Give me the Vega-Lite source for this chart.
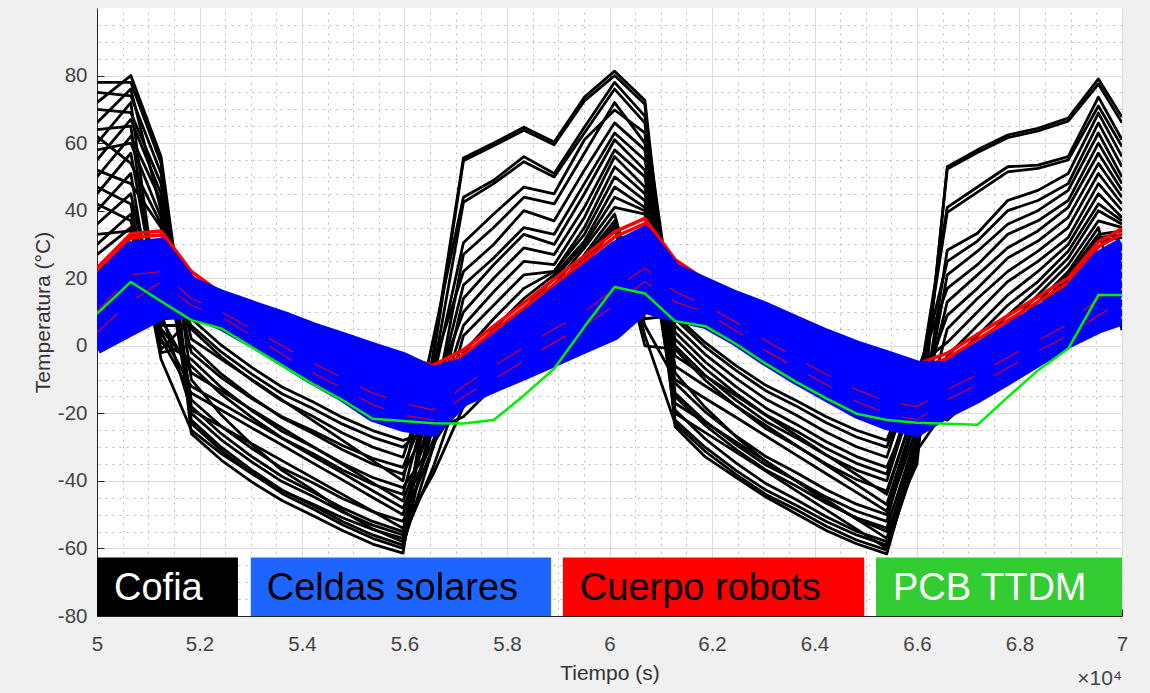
{
"$schema":"https://vega.github.io/schema/vega-lite/v6.json",
"width":1025,"height":608,
"autosize":{"type":"none"},
"padding":{"left":97,"top":8,"right":28,"bottom":77},
"background":"#f0f0f0",
"config":{"view":{"fill":"white","stroke":null},"font":"Liberation Sans"},
"datasets":{
"cofia":[
{"s":1,"t":5,"y":72},{"s":1,"t":5.066,"y":80},{"s":1,"t":5.125,"y":56},{"s":1,"t":5.184,"y":-10},{"s":1,"t":5.243,"y":-20.6},{"s":1,"t":5.302,"y":-29.2},{"s":1,"t":5.361,"y":-36.9},{"s":1,"t":5.42,"y":-42.6},{"s":1,"t":5.479,"y":-48.9},{"s":1,"t":5.538,"y":-54.2},{"s":1,"t":5.597,"y":-58},{"s":1,"t":5.656,"y":-2},{"s":1,"t":5.715,"y":55.6},{"s":1,"t":5.774,"y":60},{"s":1,"t":5.833,"y":64.7},{"s":1,"t":5.892,"y":60.3},{"s":1,"t":5.951,"y":73.6},{"s":1,"t":6.01,"y":81.3},{"s":1,"t":6.069,"y":72.7},{"s":1,"t":6.128,"y":-8},{"s":1,"t":6.187,"y":-18.3},{"s":1,"t":6.246,"y":-26.8},{"s":1,"t":6.305,"y":-34.3},{"s":1,"t":6.364,"y":-40},{"s":1,"t":6.423,"y":-46.1},{"s":1,"t":6.482,"y":-51.2},{"s":1,"t":6.541,"y":-55},{"s":1,"t":6.6,"y":-35},{"s":1,"t":6.659,"y":53},{"s":1,"t":6.718,"y":58},{"s":1,"t":6.777,"y":62.4},{"s":1,"t":6.836,"y":64.4},{"s":1,"t":6.895,"y":67.4},{"s":1,"t":6.954,"y":79},{"s":1,"t":7,"y":67.7},
{"s":2,"t":5,"y":78},{"s":2,"t":5.066,"y":78},{"s":2,"t":5.125,"y":54},{"s":2,"t":5.184,"y":-26},{"s":2,"t":5.243,"y":-33.9},{"s":2,"t":5.302,"y":-40.3},{"s":2,"t":5.361,"y":-45.8},{"s":2,"t":5.42,"y":-50.2},{"s":2,"t":5.479,"y":-54.7},{"s":2,"t":5.538,"y":-58.7},{"s":2,"t":5.597,"y":-61.4},{"s":2,"t":5.656,"y":-4},{"s":2,"t":5.715,"y":54.8},{"s":2,"t":5.774,"y":59.2},{"s":2,"t":5.833,"y":63.8},{"s":2,"t":5.892,"y":59.5},{"s":2,"t":5.951,"y":72.5},{"s":2,"t":6.01,"y":80},{"s":2,"t":6.069,"y":71.5},{"s":2,"t":6.128,"y":-20},{"s":2,"t":6.187,"y":-25.7},{"s":2,"t":6.246,"y":-31.4},{"s":2,"t":6.305,"y":-37.1},{"s":2,"t":6.364,"y":-42.9},{"s":2,"t":6.423,"y":-48.6},{"s":2,"t":6.482,"y":-54.3},{"s":2,"t":6.541,"y":-60},{"s":2,"t":6.6,"y":-33},{"s":2,"t":6.659,"y":52.3},{"s":2,"t":6.718,"y":57.2},{"s":2,"t":6.777,"y":61.6},{"s":2,"t":6.836,"y":63.6},{"s":2,"t":6.895,"y":66.5},{"s":2,"t":6.954,"y":77.5},{"s":2,"t":7,"y":66},
{"s":3,"t":5,"y":66},{"s":3,"t":5.066,"y":76},{"s":3,"t":5.125,"y":40},{"s":3,"t":5.184,"y":2},{"s":3,"t":5.243,"y":-4},{"s":3,"t":5.302,"y":-10},{"s":3,"t":5.361,"y":-16},{"s":3,"t":5.42,"y":-22},{"s":3,"t":5.479,"y":-28},{"s":3,"t":5.538,"y":-34},{"s":3,"t":5.597,"y":-40},{"s":3,"t":5.656,"y":2},{"s":3,"t":5.715,"y":44},{"s":3,"t":5.774,"y":49},{"s":3,"t":5.833,"y":56},{"s":3,"t":5.892,"y":51},{"s":3,"t":5.951,"y":64.7},{"s":3,"t":6.01,"y":78},{"s":3,"t":6.069,"y":68},{"s":3,"t":6.128,"y":4},{"s":3,"t":6.187,"y":-4.8},{"s":3,"t":6.246,"y":-12},{"s":3,"t":6.305,"y":-18.4},{"s":3,"t":6.364,"y":-23.2},{"s":3,"t":6.423,"y":-28.4},{"s":3,"t":6.482,"y":-32.8},{"s":3,"t":6.541,"y":-36},{"s":3,"t":6.6,"y":-15},{"s":3,"t":6.659,"y":41},{"s":3,"t":6.718,"y":47},{"s":3,"t":6.777,"y":53},{"s":3,"t":6.836,"y":53.5},{"s":3,"t":6.895,"y":56},{"s":3,"t":6.954,"y":73.6},{"s":3,"t":7,"y":61},
{"s":4,"t":5,"y":75},{"s":4,"t":5.066,"y":74},{"s":4,"t":5.125,"y":51},{"s":4,"t":5.184,"y":-18},{"s":4,"t":5.243,"y":-26.1},{"s":4,"t":5.302,"y":-32.8},{"s":4,"t":5.361,"y":-38.7},{"s":4,"t":5.42,"y":-43.2},{"s":4,"t":5.479,"y":-48},{"s":4,"t":5.538,"y":-52},{"s":4,"t":5.597,"y":-55},{"s":4,"t":5.656,"y":-8},{"s":4,"t":5.715,"y":42.5},{"s":4,"t":5.774,"y":48},{"s":4,"t":5.833,"y":54.5},{"s":4,"t":5.892,"y":50},{"s":4,"t":5.951,"y":63},{"s":4,"t":6.01,"y":76},{"s":4,"t":6.069,"y":66},{"s":4,"t":6.128,"y":-14},{"s":4,"t":6.187,"y":-22.4},{"s":4,"t":6.246,"y":-29.2},{"s":4,"t":6.305,"y":-35.3},{"s":4,"t":6.364,"y":-39.8},{"s":4,"t":6.423,"y":-44.8},{"s":4,"t":6.482,"y":-49},{"s":4,"t":6.541,"y":-52},{"s":4,"t":6.6,"y":-18},{"s":4,"t":6.659,"y":39.5},{"s":4,"t":6.718,"y":45.5},{"s":4,"t":6.777,"y":51.5},{"s":4,"t":6.836,"y":52.5},{"s":4,"t":6.895,"y":55},{"s":4,"t":6.954,"y":71},{"s":4,"t":7,"y":59},
{"s":5,"t":5,"y":60},{"s":5,"t":5.066,"y":72},{"s":5,"t":5.125,"y":5},{"s":5,"t":5.184,"y":-6},{"s":5,"t":5.243,"y":-14.4},{"s":5,"t":5.302,"y":-21.2},{"s":5,"t":5.361,"y":-27.3},{"s":5,"t":5.42,"y":-31.8},{"s":5,"t":5.479,"y":-36.8},{"s":5,"t":5.538,"y":-41},{"s":5,"t":5.597,"y":-44},{"s":5,"t":5.656,"y":-10},{"s":5,"t":5.715,"y":30.5},{"s":5,"t":5.774,"y":39},{"s":5,"t":5.833,"y":47},{"s":5,"t":5.892,"y":45},{"s":5,"t":5.951,"y":61},{"s":5,"t":6.01,"y":69.8},{"s":5,"t":6.069,"y":63},{"s":5,"t":6.128,"y":-24},{"s":5,"t":6.187,"y":-32.9},{"s":5,"t":6.246,"y":-38.9},{"s":5,"t":6.305,"y":-44.8},{"s":5,"t":6.364,"y":-49.7},{"s":5,"t":6.423,"y":-54.7},{"s":5,"t":6.482,"y":-58.6},{"s":5,"t":6.541,"y":-61.6},{"s":5,"t":6.6,"y":-30},{"s":5,"t":6.659,"y":28.3},{"s":5,"t":6.718,"y":33.3},{"s":5,"t":6.777,"y":43},{"s":5,"t":6.836,"y":46},{"s":5,"t":6.895,"y":51},{"s":5,"t":6.954,"y":68.9},{"s":5,"t":7,"y":56},
{"s":6,"t":5,"y":70},{"s":6,"t":5.066,"y":69},{"s":6,"t":5.125,"y":48},{"s":6,"t":5.184,"y":-23},{"s":6,"t":5.243,"y":-31.1},{"s":6,"t":5.302,"y":-37.8},{"s":6,"t":5.361,"y":-43.7},{"s":6,"t":5.42,"y":-48.2},{"s":6,"t":5.479,"y":-53},{"s":6,"t":5.538,"y":-57},{"s":6,"t":5.597,"y":-60},{"s":6,"t":5.656,"y":-20},{"s":6,"t":5.715,"y":27},{"s":6,"t":5.774,"y":35},{"s":6,"t":5.833,"y":44},{"s":6,"t":5.892,"y":42},{"s":6,"t":5.951,"y":57},{"s":6,"t":6.01,"y":72},{"s":6,"t":6.069,"y":60},{"s":6,"t":6.128,"y":0},{"s":6,"t":6.187,"y":-8.8},{"s":6,"t":6.246,"y":-16},{"s":6,"t":6.305,"y":-22.4},{"s":6,"t":6.364,"y":-27.2},{"s":6,"t":6.423,"y":-32.4},{"s":6,"t":6.482,"y":-36.8},{"s":6,"t":6.541,"y":-40},{"s":6,"t":6.6,"y":-12},{"s":6,"t":6.659,"y":25},{"s":6,"t":6.718,"y":31},{"s":6,"t":6.777,"y":40},{"s":6,"t":6.836,"y":43},{"s":6,"t":6.895,"y":48},{"s":6,"t":6.954,"y":66},{"s":6,"t":7,"y":53},
{"s":7,"t":5,"y":55},{"s":7,"t":5.066,"y":67},{"s":7,"t":5.125,"y":45},{"s":7,"t":5.184,"y":5},{"s":7,"t":5.243,"y":-3.4},{"s":7,"t":5.302,"y":-10.2},{"s":7,"t":5.361,"y":-16.3},{"s":7,"t":5.42,"y":-20.8},{"s":7,"t":5.479,"y":-25.8},{"s":7,"t":5.538,"y":-30},{"s":7,"t":5.597,"y":-33},{"s":7,"t":5.656,"y":-6},{"s":7,"t":5.715,"y":22},{"s":7,"t":5.774,"y":30},{"s":7,"t":5.833,"y":40},{"s":7,"t":5.892,"y":37},{"s":7,"t":5.951,"y":52},{"s":7,"t":6.01,"y":66},{"s":7,"t":6.069,"y":58},{"s":7,"t":6.128,"y":-17},{"s":7,"t":6.187,"y":-22.7},{"s":7,"t":6.246,"y":-28.4},{"s":7,"t":6.305,"y":-34.1},{"s":7,"t":6.364,"y":-39.9},{"s":7,"t":6.423,"y":-45.6},{"s":7,"t":6.482,"y":-51.3},{"s":7,"t":6.541,"y":-57},{"s":7,"t":6.6,"y":-28},{"s":7,"t":6.659,"y":21},{"s":7,"t":6.718,"y":28},{"s":7,"t":6.777,"y":36},{"s":7,"t":6.836,"y":40},{"s":7,"t":6.895,"y":46},{"s":7,"t":6.954,"y":63},{"s":7,"t":7,"y":50},
{"s":8,"t":5,"y":64},{"s":8,"t":5.066,"y":65},{"s":8,"t":5.125,"y":2},{"s":8,"t":5.184,"y":-14},{"s":8,"t":5.243,"y":-19.1},{"s":8,"t":5.302,"y":-24.3},{"s":8,"t":5.361,"y":-29.4},{"s":8,"t":5.42,"y":-34.6},{"s":8,"t":5.479,"y":-39.7},{"s":8,"t":5.538,"y":-44.9},{"s":8,"t":5.597,"y":-50},{"s":8,"t":5.656,"y":-18},{"s":8,"t":5.715,"y":18},{"s":8,"t":5.774,"y":26},{"s":8,"t":5.833,"y":35},{"s":8,"t":5.892,"y":33},{"s":8,"t":5.951,"y":48},{"s":8,"t":6.01,"y":63},{"s":8,"t":6.069,"y":55},{"s":8,"t":6.128,"y":8},{"s":8,"t":6.187,"y":-0.4},{"s":8,"t":6.246,"y":-7.2},{"s":8,"t":6.305,"y":-13.3},{"s":8,"t":6.364,"y":-17.8},{"s":8,"t":6.423,"y":-22.8},{"s":8,"t":6.482,"y":-27},{"s":8,"t":6.541,"y":-30},{"s":8,"t":6.6,"y":-8},{"s":8,"t":6.659,"y":17},{"s":8,"t":6.718,"y":24},{"s":8,"t":6.777,"y":33},{"s":8,"t":6.836,"y":37},{"s":8,"t":6.895,"y":43},{"s":8,"t":6.954,"y":60},{"s":8,"t":7,"y":48},
{"s":9,"t":5,"y":50},{"s":9,"t":5.066,"y":62},{"s":9,"t":5.125,"y":43},{"s":9,"t":5.184,"y":-20},{"s":9,"t":5.243,"y":-27.9},{"s":9,"t":5.302,"y":-34.4},{"s":9,"t":5.361,"y":-40.2},{"s":9,"t":5.42,"y":-44.5},{"s":9,"t":5.479,"y":-49.2},{"s":9,"t":5.538,"y":-53.1},{"s":9,"t":5.597,"y":-56},{"s":9,"t":5.656,"y":-24},{"s":9,"t":5.715,"y":14},{"s":9,"t":5.774,"y":24},{"s":9,"t":5.833,"y":33},{"s":9,"t":5.892,"y":30},{"s":9,"t":5.951,"y":45},{"s":9,"t":6.01,"y":61},{"s":9,"t":6.069,"y":52},{"s":9,"t":6.128,"y":-11},{"s":9,"t":6.187,"y":-19.6},{"s":9,"t":6.246,"y":-26.6},{"s":9,"t":6.305,"y":-32.8},{"s":9,"t":6.364,"y":-37.5},{"s":9,"t":6.423,"y":-42.6},{"s":9,"t":6.482,"y":-46.9},{"s":9,"t":6.541,"y":-50},{"s":9,"t":6.6,"y":-24},{"s":9,"t":6.659,"y":13},{"s":9,"t":6.718,"y":21},{"s":9,"t":6.777,"y":29},{"s":9,"t":6.836,"y":34},{"s":9,"t":6.895,"y":41},{"s":9,"t":6.954,"y":57},{"s":9,"t":7,"y":46},
{"s":10,"t":5,"y":58},{"s":10,"t":5.066,"y":60},{"s":10,"t":5.125,"y":38},{"s":10,"t":5.184,"y":-2},{"s":10,"t":5.243,"y":-9.5},{"s":10,"t":5.302,"y":-15.6},{"s":10,"t":5.361,"y":-21},{"s":10,"t":5.42,"y":-25.1},{"s":10,"t":5.479,"y":-29.5},{"s":10,"t":5.538,"y":-33.3},{"s":10,"t":5.597,"y":-36},{"s":10,"t":5.656,"y":-14},{"s":10,"t":5.715,"y":10},{"s":10,"t":5.774,"y":20},{"s":10,"t":5.833,"y":29},{"s":10,"t":5.892,"y":27},{"s":10,"t":5.951,"y":41},{"s":10,"t":6.01,"y":58},{"s":10,"t":6.069,"y":50},{"s":10,"t":6.128,"y":-3},{"s":10,"t":6.187,"y":-8.9},{"s":10,"t":6.246,"y":-14.7},{"s":10,"t":6.305,"y":-20.6},{"s":10,"t":6.364,"y":-26.4},{"s":10,"t":6.423,"y":-32.3},{"s":10,"t":6.482,"y":-38.1},{"s":10,"t":6.541,"y":-44},{"s":10,"t":6.6,"y":-16},{"s":10,"t":6.659,"y":9},{"s":10,"t":6.718,"y":17},{"s":10,"t":6.777,"y":26},{"s":10,"t":6.836,"y":31},{"s":10,"t":6.895,"y":38},{"s":10,"t":6.954,"y":54},{"s":10,"t":7,"y":44},
{"s":11,"t":5,"y":45},{"s":11,"t":5.066,"y":57},{"s":11,"t":5.125,"y":8},{"s":11,"t":5.184,"y":-8},{"s":11,"t":5.243,"y":-13.4},{"s":11,"t":5.302,"y":-18.9},{"s":11,"t":5.361,"y":-24.3},{"s":11,"t":5.42,"y":-29.7},{"s":11,"t":5.479,"y":-35.1},{"s":11,"t":5.538,"y":-40.6},{"s":11,"t":5.597,"y":-46},{"s":11,"t":5.656,"y":-22},{"s":11,"t":5.715,"y":6},{"s":11,"t":5.774,"y":16},{"s":11,"t":5.833,"y":25},{"s":11,"t":5.892,"y":24},{"s":11,"t":5.951,"y":38},{"s":11,"t":6.01,"y":56},{"s":11,"t":6.069,"y":47},{"s":11,"t":6.128,"y":-22},{"s":11,"t":6.187,"y":-30.1},{"s":11,"t":6.246,"y":-36.8},{"s":11,"t":6.305,"y":-42.7},{"s":11,"t":6.364,"y":-47.2},{"s":11,"t":6.423,"y":-52},{"s":11,"t":6.482,"y":-56},{"s":11,"t":6.541,"y":-59},{"s":11,"t":6.6,"y":-30},{"s":11,"t":6.659,"y":5},{"s":11,"t":6.718,"y":14},{"s":11,"t":6.777,"y":22},{"s":11,"t":6.836,"y":28},{"s":11,"t":6.895,"y":35},{"s":11,"t":6.954,"y":51},{"s":11,"t":7,"y":42},
{"s":12,"t":5,"y":62},{"s":12,"t":5.066,"y":54},{"s":12,"t":5.125,"y":36},{"s":12,"t":5.184,"y":-22},{"s":12,"t":5.243,"y":-30.1},{"s":12,"t":5.302,"y":-36.8},{"s":12,"t":5.361,"y":-42.7},{"s":12,"t":5.42,"y":-47.2},{"s":12,"t":5.479,"y":-52},{"s":12,"t":5.538,"y":-56},{"s":12,"t":5.597,"y":-59},{"s":12,"t":5.656,"y":-30},{"s":12,"t":5.715,"y":3},{"s":12,"t":5.774,"y":12},{"s":12,"t":5.833,"y":21},{"s":12,"t":5.892,"y":22},{"s":12,"t":5.951,"y":35},{"s":12,"t":6.01,"y":53},{"s":12,"t":6.069,"y":45},{"s":12,"t":6.128,"y":6},{"s":12,"t":6.187,"y":-2.6},{"s":12,"t":6.246,"y":-9.6},{"s":12,"t":6.305,"y":-15.8},{"s":12,"t":6.364,"y":-20.5},{"s":12,"t":6.423,"y":-25.6},{"s":12,"t":6.482,"y":-29.9},{"s":12,"t":6.541,"y":-33},{"s":12,"t":6.6,"y":-6},{"s":12,"t":6.659,"y":1},{"s":12,"t":6.718,"y":10},{"s":12,"t":6.777,"y":19},{"s":12,"t":6.836,"y":25},{"s":12,"t":6.895,"y":32},{"s":12,"t":6.954,"y":48},{"s":12,"t":7,"y":40},
{"s":13,"t":5,"y":40},{"s":13,"t":5.066,"y":51},{"s":13,"t":5.125,"y":-2},{"s":13,"t":5.184,"y":0},{"s":13,"t":5.243,"y":-8.4},{"s":13,"t":5.302,"y":-15.2},{"s":13,"t":5.361,"y":-21.3},{"s":13,"t":5.42,"y":-25.8},{"s":13,"t":5.479,"y":-30.8},{"s":13,"t":5.538,"y":-35},{"s":13,"t":5.597,"y":-38},{"s":13,"t":5.656,"y":-20},{"s":13,"t":5.715,"y":-2},{"s":13,"t":5.774,"y":8},{"s":13,"t":5.833,"y":17},{"s":13,"t":5.892,"y":22},{"s":13,"t":5.951,"y":33},{"s":13,"t":6.01,"y":50},{"s":13,"t":6.069,"y":43},{"s":13,"t":6.128,"y":-6},{"s":13,"t":6.187,"y":-11.9},{"s":13,"t":6.246,"y":-17.7},{"s":13,"t":6.305,"y":-23.6},{"s":13,"t":6.364,"y":-29.4},{"s":13,"t":6.423,"y":-35.3},{"s":13,"t":6.482,"y":-41.1},{"s":13,"t":6.541,"y":-47},{"s":13,"t":6.6,"y":-19},{"s":13,"t":6.659,"y":-3},{"s":13,"t":6.718,"y":6},{"s":13,"t":6.777,"y":15},{"s":13,"t":6.836,"y":22},{"s":13,"t":6.895,"y":30},{"s":13,"t":6.954,"y":45},{"s":13,"t":7,"y":38},
{"s":14,"t":5,"y":52},{"s":14,"t":5.066,"y":48},{"s":14,"t":5.125,"y":35},{"s":14,"t":5.184,"y":-16},{"s":14,"t":5.243,"y":-23.9},{"s":14,"t":5.302,"y":-30.4},{"s":14,"t":5.361,"y":-36.2},{"s":14,"t":5.42,"y":-40.5},{"s":14,"t":5.479,"y":-45.2},{"s":14,"t":5.538,"y":-49.1},{"s":14,"t":5.597,"y":-52},{"s":14,"t":5.656,"y":-30},{"s":14,"t":5.715,"y":-5},{"s":14,"t":5.774,"y":5},{"s":14,"t":5.833,"y":14},{"s":14,"t":5.892,"y":21},{"s":14,"t":5.951,"y":31},{"s":14,"t":6.01,"y":47},{"s":14,"t":6.069,"y":41},{"s":14,"t":6.128,"y":-15},{"s":14,"t":6.187,"y":-23.6},{"s":14,"t":6.246,"y":-30.6},{"s":14,"t":6.305,"y":-36.8},{"s":14,"t":6.364,"y":-41.5},{"s":14,"t":6.423,"y":-46.6},{"s":14,"t":6.482,"y":-50.9},{"s":14,"t":6.541,"y":-54},{"s":14,"t":6.6,"y":-26},{"s":14,"t":6.659,"y":-6},{"s":14,"t":6.718,"y":3},{"s":14,"t":6.777,"y":12},{"s":14,"t":6.836,"y":19},{"s":14,"t":6.895,"y":28},{"s":14,"t":6.954,"y":42},{"s":14,"t":7,"y":37},
{"s":15,"t":5,"y":36},{"s":15,"t":5.066,"y":45},{"s":15,"t":5.125,"y":4},{"s":15,"t":5.184,"y":-12},{"s":15,"t":5.243,"y":-17.1},{"s":15,"t":5.302,"y":-22.3},{"s":15,"t":5.361,"y":-27.4},{"s":15,"t":5.42,"y":-32.6},{"s":15,"t":5.479,"y":-37.7},{"s":15,"t":5.538,"y":-42.9},{"s":15,"t":5.597,"y":-48},{"s":15,"t":5.656,"y":-28},{"s":15,"t":5.715,"y":-8},{"s":15,"t":5.774,"y":2},{"s":15,"t":5.833,"y":11},{"s":15,"t":5.892,"y":20},{"s":15,"t":5.951,"y":30},{"s":15,"t":6.01,"y":44},{"s":15,"t":6.069,"y":40},{"s":15,"t":6.128,"y":2},{"s":15,"t":6.187,"y":-6.8},{"s":15,"t":6.246,"y":-14},{"s":15,"t":6.305,"y":-20.4},{"s":15,"t":6.364,"y":-25.2},{"s":15,"t":6.423,"y":-30.4},{"s":15,"t":6.482,"y":-34.8},{"s":15,"t":6.541,"y":-38},{"s":15,"t":6.6,"y":-10},{"s":15,"t":6.659,"y":-9},{"s":15,"t":6.718,"y":0},{"s":15,"t":6.777,"y":9},{"s":15,"t":6.836,"y":17},{"s":15,"t":6.895,"y":26},{"s":15,"t":6.954,"y":40},{"s":15,"t":7,"y":36},
{"s":16,"t":5,"y":47},{"s":16,"t":5.066,"y":42},{"s":16,"t":5.125,"y":-4},{"s":16,"t":5.184,"y":-25},{"s":16,"t":5.243,"y":-32},{"s":16,"t":5.302,"y":-37.8},{"s":16,"t":5.361,"y":-42.9},{"s":16,"t":5.42,"y":-46.8},{"s":16,"t":5.479,"y":-50.9},{"s":16,"t":5.538,"y":-54.4},{"s":16,"t":5.597,"y":-57},{"s":16,"t":5.656,"y":-36},{"s":16,"t":5.715,"y":-10},{"s":16,"t":5.774,"y":0},{"s":16,"t":5.833,"y":9},{"s":16,"t":5.892,"y":18},{"s":16,"t":5.951,"y":29},{"s":16,"t":6.01,"y":41},{"s":16,"t":6.069,"y":39},{"s":16,"t":6.128,"y":-19},{"s":16,"t":6.187,"y":-27.6},{"s":16,"t":6.246,"y":-34.6},{"s":16,"t":6.305,"y":-40.8},{"s":16,"t":6.364,"y":-45.5},{"s":16,"t":6.423,"y":-50.6},{"s":16,"t":6.482,"y":-54.9},{"s":16,"t":6.541,"y":-58},{"s":16,"t":6.6,"y":-27},{"s":16,"t":6.659,"y":-12},{"s":16,"t":6.718,"y":-3},{"s":16,"t":6.777,"y":6},{"s":16,"t":6.836,"y":15},{"s":16,"t":6.895,"y":24},{"s":16,"t":6.954,"y":37},{"s":16,"t":7,"y":35},
{"s":17,"t":5,"y":30},{"s":17,"t":5.066,"y":39},{"s":17,"t":5.125,"y":6},{"s":17,"t":5.184,"y":6},{"s":17,"t":5.243,"y":-1.9},{"s":17,"t":5.302,"y":-8.4},{"s":17,"t":5.361,"y":-14.2},{"s":17,"t":5.42,"y":-18.5},{"s":17,"t":5.479,"y":-23.2},{"s":17,"t":5.538,"y":-27.1},{"s":17,"t":5.597,"y":-30},{"s":17,"t":5.656,"y":-22},{"s":17,"t":5.715,"y":-13},{"s":17,"t":5.774,"y":-3},{"s":17,"t":5.833,"y":6},{"s":17,"t":5.892,"y":16},{"s":17,"t":5.951,"y":27},{"s":17,"t":6.01,"y":39},{"s":17,"t":6.069,"y":6},{"s":17,"t":6.128,"y":-10},{"s":17,"t":6.187,"y":-15.6},{"s":17,"t":6.246,"y":-21.1},{"s":17,"t":6.305,"y":-26.7},{"s":17,"t":6.364,"y":-32.3},{"s":17,"t":6.423,"y":-37.9},{"s":17,"t":6.482,"y":-43.4},{"s":17,"t":6.541,"y":-49},{"s":17,"t":6.6,"y":-21},{"s":17,"t":6.659,"y":-15},{"s":17,"t":6.718,"y":-6},{"s":17,"t":6.777,"y":4},{"s":17,"t":6.836,"y":13},{"s":17,"t":6.895,"y":22},{"s":17,"t":6.954,"y":35},{"s":17,"t":7,"y":4.6},
{"s":18,"t":5,"y":42},{"s":18,"t":5.066,"y":37},{"s":18,"t":5.125,"y":1},{"s":18,"t":5.184,"y":-4},{"s":18,"t":5.243,"y":-12.4},{"s":18,"t":5.302,"y":-19.2},{"s":18,"t":5.361,"y":-25.3},{"s":18,"t":5.42,"y":-29.8},{"s":18,"t":5.479,"y":-34.8},{"s":18,"t":5.538,"y":-39},{"s":18,"t":5.597,"y":-42},{"s":18,"t":5.656,"y":-29},{"s":18,"t":5.715,"y":-15},{"s":18,"t":5.774,"y":-6},{"s":18,"t":5.833,"y":4},{"s":18,"t":5.892,"y":14},{"s":18,"t":5.951,"y":26},{"s":18,"t":6.01,"y":37},{"s":18,"t":6.069,"y":3},{"s":18,"t":6.128,"y":-23},{"s":18,"t":6.187,"y":-31.3},{"s":18,"t":6.246,"y":-38},{"s":18,"t":6.305,"y":-44},{"s":18,"t":6.364,"y":-48.5},{"s":18,"t":6.423,"y":-53.4},{"s":18,"t":6.482,"y":-57.5},{"s":18,"t":6.541,"y":-60.5},{"s":18,"t":6.6,"y":-31},{"s":18,"t":6.659,"y":-18},{"s":18,"t":6.718,"y":-9},{"s":18,"t":6.777,"y":2},{"s":18,"t":6.836,"y":11},{"s":18,"t":6.895,"y":21},{"s":18,"t":6.954,"y":33},{"s":18,"t":7,"y":34},
{"s":19,"t":5,"y":27},{"s":19,"t":5.066,"y":35},{"s":19,"t":5.125,"y":10},{"s":19,"t":5.184,"y":-19},{"s":19,"t":5.243,"y":-24},{"s":19,"t":5.302,"y":-29},{"s":19,"t":5.361,"y":-34},{"s":19,"t":5.42,"y":-39},{"s":19,"t":5.479,"y":-44},{"s":19,"t":5.538,"y":-49},{"s":19,"t":5.597,"y":-54},{"s":19,"t":5.656,"y":-38},{"s":19,"t":5.715,"y":-18},{"s":19,"t":5.774,"y":-9},{"s":19,"t":5.833,"y":1},{"s":19,"t":5.892,"y":12},{"s":19,"t":5.951,"y":25},{"s":19,"t":6.01,"y":36},{"s":19,"t":6.069,"y":8},{"s":19,"t":6.128,"y":9},{"s":19,"t":6.187,"y":0.9},{"s":19,"t":6.246,"y":-5.8},{"s":19,"t":6.305,"y":-11.7},{"s":19,"t":6.364,"y":-16.2},{"s":19,"t":6.423,"y":-21},{"s":19,"t":6.482,"y":-25},{"s":19,"t":6.541,"y":-28},{"s":19,"t":6.6,"y":-6},{"s":19,"t":6.659,"y":-20},{"s":19,"t":6.718,"y":-11},{"s":19,"t":6.777,"y":0},{"s":19,"t":6.836,"y":10},{"s":19,"t":6.895,"y":20},{"s":19,"t":6.954,"y":32},{"s":19,"t":7,"y":33},
{"s":20,"t":5,"y":33},{"s":20,"t":5.066,"y":34},{"s":20,"t":5.125,"y":-1},{"s":20,"t":5.184,"y":8},{"s":20,"t":5.243,"y":0.1},{"s":20,"t":5.302,"y":-6.4},{"s":20,"t":5.361,"y":-12.2},{"s":20,"t":5.42,"y":-16.5},{"s":20,"t":5.479,"y":-21.2},{"s":20,"t":5.538,"y":-25.1},{"s":20,"t":5.597,"y":-28},{"s":20,"t":5.656,"y":-25},{"s":20,"t":5.715,"y":-21},{"s":20,"t":5.774,"y":-12},{"s":20,"t":5.833,"y":-2},{"s":20,"t":5.892,"y":10},{"s":20,"t":5.951,"y":24},{"s":20,"t":6.01,"y":35},{"s":20,"t":6.069,"y":0},{"s":20,"t":6.128,"y":-1},{"s":20,"t":6.187,"y":-10.2},{"s":20,"t":6.246,"y":-17.8},{"s":20,"t":6.305,"y":-24.5},{"s":20,"t":6.364,"y":-29.6},{"s":20,"t":6.423,"y":-35},{"s":20,"t":6.482,"y":-39.6},{"s":20,"t":6.541,"y":-43},{"s":20,"t":6.6,"y":-17},{"s":20,"t":6.659,"y":-22},{"s":20,"t":6.718,"y":-14},{"s":20,"t":6.777,"y":-2},{"s":20,"t":6.836,"y":8},{"s":20,"t":6.895,"y":19},{"s":20,"t":6.954,"y":31},{"s":20,"t":7,"y":32}
],
"celdas":[
{"s":1,"t":5,"y":-0.7},{"s":1,"t":5.066,"y":4.6},{"s":1,"t":5.125,"y":9.3},{"s":1,"t":5.184,"y":9.8},{"s":1,"t":5.243,"y":6.3},{"s":1,"t":5.302,"y":1.3},{"s":1,"t":5.361,"y":-4.2},{"s":1,"t":5.42,"y":-9.7},{"s":1,"t":5.479,"y":-14.7},{"s":1,"t":5.538,"y":-20.7},{"s":1,"t":5.597,"y":-23.7},{"s":1,"t":5.656,"y":-25.2},{"s":1,"t":5.715,"y":-16.2},{"s":1,"t":5.774,"y":-12.2},{"s":1,"t":5.833,"y":-8.4},{"s":1,"t":5.892,"y":-4.5},{"s":1,"t":5.951,"y":-0.5},{"s":1,"t":6.01,"y":3.4},{"s":1,"t":6.069,"y":11.3},{"s":1,"t":6.128,"y":8.8},{"s":1,"t":6.187,"y":6.8},{"s":1,"t":6.246,"y":1.8},{"s":1,"t":6.305,"y":-4.2},{"s":1,"t":6.364,"y":-9.7},{"s":1,"t":6.423,"y":-14.7},{"s":1,"t":6.482,"y":-19.7},{"s":1,"t":6.541,"y":-23.2},{"s":1,"t":6.6,"y":-25.2},{"s":1,"t":6.659,"y":-19.7},{"s":1,"t":6.718,"y":-15.2},{"s":1,"t":6.777,"y":-9.9},{"s":1,"t":6.836,"y":-4.5},{"s":1,"t":6.895,"y":1},{"s":1,"t":6.954,"y":5.4},{"s":1,"t":7,"y":7.8},
{"s":2,"t":5,"y":1.8},{"s":2,"t":5.066,"y":7.7},{"s":2,"t":5.125,"y":11.9},{"s":2,"t":5.184,"y":10.9},{"s":2,"t":5.243,"y":7.4},{"s":2,"t":5.302,"y":2.6},{"s":2,"t":5.361,"y":-2.6},{"s":2,"t":5.42,"y":-7.8},{"s":2,"t":5.479,"y":-12.6},{"s":2,"t":5.538,"y":-18.2},{"s":2,"t":5.597,"y":-21.2},{"s":2,"t":5.656,"y":-23},{"s":2,"t":5.715,"y":-14.8},{"s":2,"t":5.774,"y":-10.5},{"s":2,"t":5.833,"y":-6.3},{"s":2,"t":5.892,"y":-2},{"s":2,"t":5.951,"y":2.3},{"s":2,"t":6.01,"y":6.6},{"s":2,"t":6.069,"y":14.1},{"s":2,"t":6.128,"y":10.5},{"s":2,"t":6.187,"y":8.3},{"s":2,"t":6.246,"y":3.4},{"s":2,"t":6.305,"y":-2.3},{"s":2,"t":6.364,"y":-7.6},{"s":2,"t":6.423,"y":-12.5},{"s":2,"t":6.482,"y":-17.3},{"s":2,"t":6.541,"y":-20.7},{"s":2,"t":6.6,"y":-22.8},{"s":2,"t":6.659,"y":-18},{"s":2,"t":6.718,"y":-13.4},{"s":2,"t":6.777,"y":-8.1},{"s":2,"t":6.836,"y":-2.7},{"s":2,"t":6.895,"y":2.9},{"s":2,"t":6.954,"y":8},{"s":2,"t":7,"y":10.6},
{"s":3,"t":5,"y":4.3},{"s":3,"t":5.066,"y":10.8},{"s":3,"t":5.125,"y":14.5},{"s":3,"t":5.184,"y":12},{"s":3,"t":5.243,"y":8.4},{"s":3,"t":5.302,"y":3.9},{"s":3,"t":5.361,"y":-1},{"s":3,"t":5.42,"y":-6},{"s":3,"t":5.479,"y":-10.5},{"s":3,"t":5.538,"y":-15.7},{"s":3,"t":5.597,"y":-18.7},{"s":3,"t":5.656,"y":-20.9},{"s":3,"t":5.715,"y":-13.5},{"s":3,"t":5.774,"y":-8.8},{"s":3,"t":5.833,"y":-4.2},{"s":3,"t":5.892,"y":0.5},{"s":3,"t":5.951,"y":5.2},{"s":3,"t":6.01,"y":9.9},{"s":3,"t":6.069,"y":16.9},{"s":3,"t":6.128,"y":12.3},{"s":3,"t":6.187,"y":9.8},{"s":3,"t":6.246,"y":5},{"s":3,"t":6.305,"y":-0.4},{"s":3,"t":6.364,"y":-5.5},{"s":3,"t":6.423,"y":-10.2},{"s":3,"t":6.482,"y":-14.8},{"s":3,"t":6.541,"y":-18.2},{"s":3,"t":6.6,"y":-20.4},{"s":3,"t":6.659,"y":-16.4},{"s":3,"t":6.718,"y":-11.6},{"s":3,"t":6.777,"y":-6.3},{"s":3,"t":6.836,"y":-0.8},{"s":3,"t":6.895,"y":4.7},{"s":3,"t":6.954,"y":10.6},{"s":3,"t":7,"y":13.4},
{"s":4,"t":5,"y":6.8},{"s":4,"t":5.066,"y":13.8},{"s":4,"t":5.125,"y":17.1},{"s":4,"t":5.184,"y":13.1},{"s":4,"t":5.243,"y":9.5},{"s":4,"t":5.302,"y":5.2},{"s":4,"t":5.361,"y":0.6},{"s":4,"t":5.42,"y":-4.1},{"s":4,"t":5.479,"y":-8.3},{"s":4,"t":5.538,"y":-13.2},{"s":4,"t":5.597,"y":-16.2},{"s":4,"t":5.656,"y":-18.7},{"s":4,"t":5.715,"y":-12.1},{"s":4,"t":5.774,"y":-7.1},{"s":4,"t":5.833,"y":-2.1},{"s":4,"t":5.892,"y":3},{"s":4,"t":5.951,"y":8},{"s":4,"t":6.01,"y":13.1},{"s":4,"t":6.069,"y":19.7},{"s":4,"t":6.128,"y":14},{"s":4,"t":6.187,"y":11.2},{"s":4,"t":6.246,"y":6.6},{"s":4,"t":6.305,"y":1.6},{"s":4,"t":6.364,"y":-3.4},{"s":4,"t":6.423,"y":-8},{"s":4,"t":6.482,"y":-12.4},{"s":4,"t":6.541,"y":-15.7},{"s":4,"t":6.6,"y":-18},{"s":4,"t":6.659,"y":-14.7},{"s":4,"t":6.718,"y":-9.8},{"s":4,"t":6.777,"y":-4.4},{"s":4,"t":6.836,"y":1},{"s":4,"t":6.895,"y":6.6},{"s":4,"t":6.954,"y":13.2},{"s":4,"t":7,"y":16.2},
{"s":5,"t":5,"y":9.3},{"s":5,"t":5.066,"y":16.9},{"s":5,"t":5.125,"y":19.8},{"s":5,"t":5.184,"y":14.3},{"s":5,"t":5.243,"y":10.6},{"s":5,"t":5.302,"y":6.5},{"s":5,"t":5.361,"y":2.3},{"s":5,"t":5.42,"y":-2.2},{"s":5,"t":5.479,"y":-6.2},{"s":5,"t":5.538,"y":-10.7},{"s":5,"t":5.597,"y":-13.7},{"s":5,"t":5.656,"y":-16.5},{"s":5,"t":5.715,"y":-10.8},{"s":5,"t":5.774,"y":-5.4},{"s":5,"t":5.833,"y":0},{"s":5,"t":5.892,"y":5.5},{"s":5,"t":5.951,"y":10.9},{"s":5,"t":6.01,"y":16.3},{"s":5,"t":6.069,"y":22.5},{"s":5,"t":6.128,"y":15.8},{"s":5,"t":6.187,"y":12.7},{"s":5,"t":6.246,"y":8.2},{"s":5,"t":6.305,"y":3.5},{"s":5,"t":6.364,"y":-1.3},{"s":5,"t":6.423,"y":-5.7},{"s":5,"t":6.482,"y":-10},{"s":5,"t":6.541,"y":-13.2},{"s":5,"t":6.6,"y":-15.7},{"s":5,"t":6.659,"y":-13},{"s":5,"t":6.718,"y":-8},{"s":5,"t":6.777,"y":-2.6},{"s":5,"t":6.836,"y":2.9},{"s":5,"t":6.895,"y":8.4},{"s":5,"t":6.954,"y":15.8},{"s":5,"t":7,"y":19},
{"s":6,"t":5,"y":11.7},{"s":6,"t":5.066,"y":20},{"s":6,"t":5.125,"y":22.4},{"s":6,"t":5.184,"y":15.4},{"s":6,"t":5.243,"y":11.6},{"s":6,"t":5.302,"y":7.8},{"s":6,"t":5.361,"y":3.9},{"s":6,"t":5.42,"y":-0.3},{"s":6,"t":5.479,"y":-4.1},{"s":6,"t":5.538,"y":-8.2},{"s":6,"t":5.597,"y":-11.1},{"s":6,"t":5.656,"y":-14.3},{"s":6,"t":5.715,"y":-9.4},{"s":6,"t":5.774,"y":-3.6},{"s":6,"t":5.833,"y":2.1},{"s":6,"t":5.892,"y":7.9},{"s":6,"t":5.951,"y":13.7},{"s":6,"t":6.01,"y":19.5},{"s":6,"t":6.069,"y":25.3},{"s":6,"t":6.128,"y":17.5},{"s":6,"t":6.187,"y":14.2},{"s":6,"t":6.246,"y":9.8},{"s":6,"t":6.305,"y":5.4},{"s":6,"t":6.364,"y":0.9},{"s":6,"t":6.423,"y":-3.5},{"s":6,"t":6.482,"y":-7.5},{"s":6,"t":6.541,"y":-10.6},{"s":6,"t":6.6,"y":-13.3},{"s":6,"t":6.659,"y":-11.3},{"s":6,"t":6.718,"y":-6.2},{"s":6,"t":6.777,"y":-0.8},{"s":6,"t":6.836,"y":4.7},{"s":6,"t":6.895,"y":10.3},{"s":6,"t":6.954,"y":18.4},{"s":6,"t":7,"y":21.8},
{"s":7,"t":5,"y":14.2},{"s":7,"t":5.066,"y":23.1},{"s":7,"t":5.125,"y":25},{"s":7,"t":5.184,"y":16.5},{"s":7,"t":5.243,"y":12.7},{"s":7,"t":5.302,"y":9.1},{"s":7,"t":5.361,"y":5.5},{"s":7,"t":5.42,"y":1.6},{"s":7,"t":5.479,"y":-2},{"s":7,"t":5.538,"y":-5.7},{"s":7,"t":5.597,"y":-8.6},{"s":7,"t":5.656,"y":-12.2},{"s":7,"t":5.715,"y":-8},{"s":7,"t":5.774,"y":-1.9},{"s":7,"t":5.833,"y":4.2},{"s":7,"t":5.892,"y":10.4},{"s":7,"t":5.951,"y":16.5},{"s":7,"t":6.01,"y":22.8},{"s":7,"t":6.069,"y":28.1},{"s":7,"t":6.128,"y":19.2},{"s":7,"t":6.187,"y":15.7},{"s":7,"t":6.246,"y":11.4},{"s":7,"t":6.305,"y":7.4},{"s":7,"t":6.364,"y":3},{"s":7,"t":6.423,"y":-1.2},{"s":7,"t":6.482,"y":-5.1},{"s":7,"t":6.541,"y":-8.1},{"s":7,"t":6.6,"y":-10.9},{"s":7,"t":6.659,"y":-9.6},{"s":7,"t":6.718,"y":-4.4},{"s":7,"t":6.777,"y":1.1},{"s":7,"t":6.836,"y":6.5},{"s":7,"t":6.895,"y":12.1},{"s":7,"t":6.954,"y":21},{"s":7,"t":7,"y":24.6},
{"s":8,"t":5,"y":16.7},{"s":8,"t":5.066,"y":26.1},{"s":8,"t":5.125,"y":27.6},{"s":8,"t":5.184,"y":17.6},{"s":8,"t":5.243,"y":13.7},{"s":8,"t":5.302,"y":10.4},{"s":8,"t":5.361,"y":7.1},{"s":8,"t":5.42,"y":3.4},{"s":8,"t":5.479,"y":0.2},{"s":8,"t":5.538,"y":-3.2},{"s":8,"t":5.597,"y":-6.1},{"s":8,"t":5.656,"y":-10},{"s":8,"t":5.715,"y":-6.7},{"s":8,"t":5.774,"y":-0.2},{"s":8,"t":5.833,"y":6.3},{"s":8,"t":5.892,"y":12.9},{"s":8,"t":5.951,"y":19.4},{"s":8,"t":6.01,"y":26},{"s":8,"t":6.069,"y":30.9},{"s":8,"t":6.128,"y":21},{"s":8,"t":6.187,"y":17.1},{"s":8,"t":6.246,"y":13},{"s":8,"t":6.305,"y":9.3},{"s":8,"t":6.364,"y":5.1},{"s":8,"t":6.423,"y":1.1},{"s":8,"t":6.482,"y":-2.6},{"s":8,"t":6.541,"y":-5.6},{"s":8,"t":6.6,"y":-8.5},{"s":8,"t":6.659,"y":-8},{"s":8,"t":6.718,"y":-2.6},{"s":8,"t":6.777,"y":2.9},{"s":8,"t":6.836,"y":8.4},{"s":8,"t":6.895,"y":14},{"s":8,"t":6.954,"y":23.6},{"s":8,"t":7,"y":27.4},
{"s":9,"t":5,"y":19.2},{"s":9,"t":5.066,"y":29.2},{"s":9,"t":5.125,"y":30.2},{"s":9,"t":5.184,"y":18.7},{"s":9,"t":5.243,"y":14.8},{"s":9,"t":5.302,"y":11.7},{"s":9,"t":5.361,"y":8.7},{"s":9,"t":5.42,"y":5.3},{"s":9,"t":5.479,"y":2.3},{"s":9,"t":5.538,"y":-0.7},{"s":9,"t":5.597,"y":-3.6},{"s":9,"t":5.656,"y":-7.8},{"s":9,"t":5.715,"y":-5.3},{"s":9,"t":5.774,"y":1.5},{"s":9,"t":5.833,"y":8.4},{"s":9,"t":5.892,"y":15.4},{"s":9,"t":5.951,"y":22.2},{"s":9,"t":6.01,"y":29.2},{"s":9,"t":6.069,"y":33.7},{"s":9,"t":6.128,"y":22.7},{"s":9,"t":6.187,"y":18.6},{"s":9,"t":6.246,"y":14.6},{"s":9,"t":6.305,"y":11.2},{"s":9,"t":6.364,"y":7.2},{"s":9,"t":6.423,"y":3.3},{"s":9,"t":6.482,"y":-0.2},{"s":9,"t":6.541,"y":-3.1},{"s":9,"t":6.6,"y":-6.1},{"s":9,"t":6.659,"y":-6.3},{"s":9,"t":6.718,"y":-0.8},{"s":9,"t":6.777,"y":4.7},{"s":9,"t":6.836,"y":10.2},{"s":9,"t":6.895,"y":15.8},{"s":9,"t":6.954,"y":26.2},{"s":9,"t":7,"y":30.2}
],
"cuerpo":[
{"s":1,"t":5,"y":23},{"s":1,"t":5.066,"y":33.2},{"s":1,"t":5.125,"y":34},{"s":1,"t":5.184,"y":22},{"s":1,"t":5.243,"y":15.5},{"s":1,"t":5.302,"y":12},{"s":1,"t":5.361,"y":9},{"s":1,"t":5.42,"y":5.6},{"s":1,"t":5.479,"y":2.6},{"s":1,"t":5.538,"y":-0.4},{"s":1,"t":5.597,"y":-3.3},{"s":1,"t":5.656,"y":-5.8},{"s":1,"t":5.715,"y":-1.2},{"s":1,"t":5.774,"y":5.8},{"s":1,"t":5.833,"y":12.7},{"s":1,"t":5.892,"y":19.7},{"s":1,"t":5.951,"y":26.6},{"s":1,"t":6.01,"y":33.7},{"s":1,"t":6.069,"y":37.7},{"s":1,"t":6.128,"y":25.5},{"s":1,"t":6.187,"y":19.5},{"s":1,"t":6.246,"y":15},{"s":1,"t":6.305,"y":11.5},{"s":1,"t":6.364,"y":7.5},{"s":1,"t":6.423,"y":3.6},{"s":1,"t":6.482,"y":0.1},{"s":1,"t":6.541,"y":-2.8},{"s":1,"t":6.6,"y":-5.5},{"s":1,"t":6.659,"y":-2.2},{"s":1,"t":6.718,"y":3.4},{"s":1,"t":6.777,"y":8.9},{"s":1,"t":6.836,"y":14.5},{"s":1,"t":6.895,"y":20.1},{"s":1,"t":6.954,"y":30.8},{"s":1,"t":7,"y":34.7},
{"s":2,"t":5,"y":21.5},{"s":2,"t":5.066,"y":32},{"s":2,"t":5.125,"y":32.8},{"s":2,"t":5.184,"y":20.5},{"s":2,"t":5.243,"y":14},{"s":2,"t":5.302,"y":10.5},{"s":2,"t":5.361,"y":7.5},{"s":2,"t":5.42,"y":4},{"s":2,"t":5.479,"y":1},{"s":2,"t":5.538,"y":-2},{"s":2,"t":5.597,"y":-5},{"s":2,"t":5.656,"y":-7.3},{"s":2,"t":5.715,"y":-2.7},{"s":2,"t":5.774,"y":4.3},{"s":2,"t":5.833,"y":11.2},{"s":2,"t":5.892,"y":18.2},{"s":2,"t":5.951,"y":25.1},{"s":2,"t":6.01,"y":32.2},{"s":2,"t":6.069,"y":36.2},{"s":2,"t":6.128,"y":24},{"s":2,"t":6.187,"y":18},{"s":2,"t":6.246,"y":13.5},{"s":2,"t":6.305,"y":10},{"s":2,"t":6.364,"y":6},{"s":2,"t":6.423,"y":2},{"s":2,"t":6.482,"y":-1.5},{"s":2,"t":6.541,"y":-4.3},{"s":2,"t":6.6,"y":-7},{"s":2,"t":6.659,"y":-3.7},{"s":2,"t":6.718,"y":1.9},{"s":2,"t":6.777,"y":7.4},{"s":2,"t":6.836,"y":13},{"s":2,"t":6.895,"y":18.6},{"s":2,"t":6.954,"y":29.3},{"s":2,"t":7,"y":33.2},
{"s":3,"t":5,"y":10},{"s":3,"t":5.066,"y":21},{"s":3,"t":5.125,"y":22},{"s":3,"t":5.184,"y":14},{"s":3,"t":5.243,"y":10},{"s":3,"t":5.302,"y":5},{"s":3,"t":5.361,"y":0},{"s":3,"t":5.42,"y":-5},{"s":3,"t":5.479,"y":-9.5},{"s":3,"t":5.538,"y":-14},{"s":3,"t":5.597,"y":-17},{"s":3,"t":5.656,"y":-19},{"s":3,"t":5.715,"y":-12},{"s":3,"t":5.774,"y":-6},{"s":3,"t":5.833,"y":-0.5},{"s":3,"t":5.892,"y":5},{"s":3,"t":5.951,"y":10},{"s":3,"t":6.01,"y":17},{"s":3,"t":6.069,"y":23},{"s":3,"t":6.128,"y":16},{"s":3,"t":6.187,"y":12},{"s":3,"t":6.246,"y":7},{"s":3,"t":6.305,"y":1.5},{"s":3,"t":6.364,"y":-3.5},{"s":3,"t":6.423,"y":-8.5},{"s":3,"t":6.482,"y":-13},{"s":3,"t":6.541,"y":-16.5},{"s":3,"t":6.6,"y":-18},{"s":3,"t":6.659,"y":-13},{"s":3,"t":6.718,"y":-8.5},{"s":3,"t":6.777,"y":-3.5},{"s":3,"t":6.836,"y":1.5},{"s":3,"t":6.895,"y":6.5},{"s":3,"t":6.954,"y":14},{"s":3,"t":7,"y":18},
{"s":4,"t":5,"y":4},{"s":4,"t":5.066,"y":13},{"s":4,"t":5.125,"y":19},{"s":4,"t":5.184,"y":12},{"s":4,"t":5.243,"y":8.5},{"s":4,"t":5.302,"y":3},{"s":4,"t":5.361,"y":-2.5},{"s":4,"t":5.42,"y":-8},{"s":4,"t":5.479,"y":-12.5},{"s":4,"t":5.538,"y":-17.5},{"s":4,"t":5.597,"y":-20.5},{"s":4,"t":5.656,"y":-22},{"s":4,"t":5.715,"y":-15},{"s":4,"t":5.774,"y":-10},{"s":4,"t":5.833,"y":-4.5},{"s":4,"t":5.892,"y":1},{"s":4,"t":5.951,"y":6},{"s":4,"t":6.01,"y":12},{"s":4,"t":6.069,"y":19},{"s":4,"t":6.128,"y":13},{"s":4,"t":6.187,"y":10},{"s":4,"t":6.246,"y":4.5},{"s":4,"t":6.305,"y":-1.5},{"s":4,"t":6.364,"y":-6.5},{"s":4,"t":6.423,"y":-11.5},{"s":4,"t":6.482,"y":-16.5},{"s":4,"t":6.541,"y":-20},{"s":4,"t":6.6,"y":-22},{"s":4,"t":6.659,"y":-16},{"s":4,"t":6.718,"y":-11.5},{"s":4,"t":6.777,"y":-6.5},{"s":4,"t":6.836,"y":-1.5},{"s":4,"t":6.895,"y":3},{"s":4,"t":6.954,"y":9},{"s":4,"t":7,"y":13}
],
"pcb":[
{"s":1,"t":5,"y":9.5},{"s":1,"t":5.066,"y":18.9},{"s":1,"t":5.125,"y":13.2},{"s":1,"t":5.184,"y":7.6},{"s":1,"t":5.243,"y":5.1},{"s":1,"t":5.302,"y":-0.4},{"s":1,"t":5.361,"y":-5.8},{"s":1,"t":5.42,"y":-11.2},{"s":1,"t":5.479,"y":-16.1},{"s":1,"t":5.538,"y":-21.6},{"s":1,"t":5.597,"y":-22.3},{"s":1,"t":5.656,"y":-22.9},{"s":1,"t":5.715,"y":-23},{"s":1,"t":5.774,"y":-22},{"s":1,"t":5.833,"y":-14.7},{"s":1,"t":5.892,"y":-6.8},{"s":1,"t":5.951,"y":5.6},{"s":1,"t":6.01,"y":17.4},{"s":1,"t":6.069,"y":15.5},{"s":1,"t":6.128,"y":7.3},{"s":1,"t":6.187,"y":5.8},{"s":1,"t":6.246,"y":0.6},{"s":1,"t":6.305,"y":-5.3},{"s":1,"t":6.364,"y":-10.7},{"s":1,"t":6.423,"y":-15.6},{"s":1,"t":6.482,"y":-20.1},{"s":1,"t":6.541,"y":-22},{"s":1,"t":6.6,"y":-22.8},{"s":1,"t":6.659,"y":-23.1},{"s":1,"t":6.718,"y":-23.4},{"s":1,"t":6.777,"y":-15.2},{"s":1,"t":6.836,"y":-7.3},{"s":1,"t":6.895,"y":-0.9},{"s":1,"t":6.954,"y":15},{"s":1,"t":7,"y":15}
]
},
"layer":[
{"data":{"name":"cofia"},
 "mark":{"type":"line","color":"#000000","strokeWidth":2.8,"clip":true,"strokeJoin":"round"},
 "encoding":{
  "x":{"field":"t","type":"quantitative","scale":{"domain":[5,7],"nice":false,"zero":false},
   "axis":{"orient":"bottom","values":[5,5.2,5.4,5.6,5.8,6,6.2,6.4,6.6,6.8,7],"format":"~g","labelFlush":false,"grid":true,"gridColor":"#dcdcdc","gridWidth":1,"domainColor":"#262626","tickColor":"#262626","tickSize":-7,"labelFontSize":20.5,"labelColor":"#444444","labelPadding":25,"title":"Tiempo (s)","titleFontSize":21,"titleFontWeight":"normal","titleColor":"#333333","titlePadding":8,"labelFont":"Liberation Sans","titleFont":"Liberation Sans"}},
  "y":{"field":"y","type":"quantitative","scale":{"domain":[-80,100],"nice":false,"zero":false},
   "axis":{"orient":"left","values":[-80,-60,-40,-20,0,20,40,60,80],"labelExpr":"replace(datum.label, '−', '-')","grid":true,"gridColor":"#dcdcdc","gridWidth":1,"domainColor":"#262626","tickColor":"#262626","tickSize":-7,"labelFontSize":20.5,"labelColor":"#444444","labelPadding":17,"title":"Temperatura (°C)","titleFontSize":21,"titleFontWeight":"normal","titleColor":"#333333","titlePadding":4,"labelFont":"Liberation Sans","titleFont":"Liberation Sans"}},
  "detail":{"field":"s","type":"nominal"}}},
{"data":{"name":"cuerpo"},"transform":[{"filter":"datum.s <= 2"}],
 "mark":{"type":"line","color":"#ff0000","strokeWidth":3.5,"clip":true,"strokeJoin":"round"},
 "encoding":{
  "x":{"field":"t","type":"quantitative",
   "axis":{"orient":"top","values":[5.05,5.1,5.15,5.25,5.3,5.35,5.45,5.5,5.55,5.65,5.7,5.75,5.85,5.9,5.95,6.05,6.1,6.15,6.25,6.3,6.35,6.45,6.5,6.55,6.65,6.7,6.75,6.85,6.9,6.95],"grid":true,"gridDash":[2,5],"gridColor":"#bcbcbc","gridWidth":1,"labels":false,"ticks":false,"domain":false,"title":null}},
  "y":{"field":"y","type":"quantitative",
   "axis":{"orient":"right","values":[-75,-70,-65,-55,-50,-45,-35,-30,-25,-15,-10,-5,5,10,15,25,30,35,45,50,55,65,70,75,85,90,95],"grid":true,"gridDash":[2,5],"gridColor":"#bcbcbc","gridWidth":1,"labels":false,"ticks":false,"domain":false,"title":null}},
  "detail":{"field":"s","type":"nominal"}}},
{"data":{"name":"celdas"},
 "mark":{"type":"line","color":"#0000ff","strokeWidth":12,"clip":true,"strokeJoin":"round","strokeCap":"butt"},
 "encoding":{
  "x":{"field":"t","type":"quantitative","axis":null},
  "y":{"field":"y","type":"quantitative","axis":null},
  "detail":{"field":"s","type":"nominal"}}},
{"data":{"name":"cuerpo"},"transform":[{"filter":"datum.s >= 3"}],
 "mark":{"type":"line","color":"#ff0000","strokeWidth":1.3,"clip":true,"opacity":0.75,"strokeDash":[28,24]},
 "encoding":{
  "x":{"field":"t","type":"quantitative","axis":null},
  "y":{"field":"y","type":"quantitative","axis":null},
  "detail":{"field":"s","type":"nominal"}}},
{"data":{"name":"pcb"},
 "mark":{"type":"line","color":"#00ee00","strokeWidth":2.5,"clip":true,"strokeJoin":"round"},
 "encoding":{
  "x":{"field":"t","type":"quantitative","axis":null},
  "y":{"field":"y","type":"quantitative","axis":null}}},
{"data":{"values":[{"label":"Cofia"}]},"mark":{"type":"rect","color":"#000000"},
 "encoding":{"x":{"datum":5,"type":"quantitative","axis":null},"x2":{"datum":5.275},"y":{"datum":-80,"type":"quantitative","axis":null},"y2":{"datum":-62.7}}},
{"data":{"values":[{"label":"Celdas solares"}]},"mark":{"type":"rect","color":"#1e64ff"},
 "encoding":{"x":{"datum":5.3,"type":"quantitative","axis":null},"x2":{"datum":5.886},"y":{"datum":-80,"type":"quantitative","axis":null},"y2":{"datum":-62.7}}},
{"data":{"values":[{"label":"Cuerpo robots"}]},"mark":{"type":"rect","color":"#ff0000"},
 "encoding":{"x":{"datum":5.909,"type":"quantitative","axis":null},"x2":{"datum":6.497},"y":{"datum":-80,"type":"quantitative","axis":null},"y2":{"datum":-62.7}}},
{"data":{"values":[{"label":"PCB TTDM"}]},"mark":{"type":"rect","color":"#33cc33"},
 "encoding":{"x":{"datum":6.52,"type":"quantitative","axis":null},"x2":{"datum":7},"y":{"datum":-80,"type":"quantitative","axis":null},"y2":{"datum":-62.7}}},
{"data":{"values":[{"label":"Cofia"}]},"mark":{"type":"text","align":"left","baseline":"alphabetic","dx":17,"dy":-16,"fontSize":38,"font":"Liberation Sans","color":"#ffffff"},
 "encoding":{"x":{"datum":5,"type":"quantitative","axis":null},"y":{"datum":-80,"type":"quantitative","axis":null},"text":{"field":"label"}}},
{"data":{"values":[{"label":"Celdas solares"}]},"mark":{"type":"text","align":"left","baseline":"alphabetic","dx":16,"dy":-16,"fontSize":38,"font":"Liberation Sans","color":"#000000"},
 "encoding":{"x":{"datum":5.3,"type":"quantitative","axis":null},"y":{"datum":-80,"type":"quantitative","axis":null},"text":{"field":"label"}}},
{"data":{"values":[{"label":"Cuerpo robots"}]},"mark":{"type":"text","align":"left","baseline":"alphabetic","dx":17,"dy":-16,"fontSize":38,"font":"Liberation Sans","color":"#000000"},
 "encoding":{"x":{"datum":5.909,"type":"quantitative","axis":null},"y":{"datum":-80,"type":"quantitative","axis":null},"text":{"field":"label"}}},
{"data":{"values":[{"label":"PCB TTDM"}]},"mark":{"type":"text","align":"left","baseline":"alphabetic","dx":17,"dy":-16,"fontSize":38,"font":"Liberation Sans","color":"#ffffff"},
 "encoding":{"x":{"datum":6.52,"type":"quantitative","axis":null},"y":{"datum":-80,"type":"quantitative","axis":null},"text":{"field":"label"}}},
{"data":{"values":[{"label":"×10⁴"}]},"mark":{"type":"text","align":"right","baseline":"alphabetic","dy":69,"fontSize":21,"font":"Liberation Sans","color":"#444444"},
 "encoding":{"x":{"datum":7,"type":"quantitative","axis":null},"y":{"datum":-80,"type":"quantitative","axis":null},"text":{"field":"label"}}}
]
}
